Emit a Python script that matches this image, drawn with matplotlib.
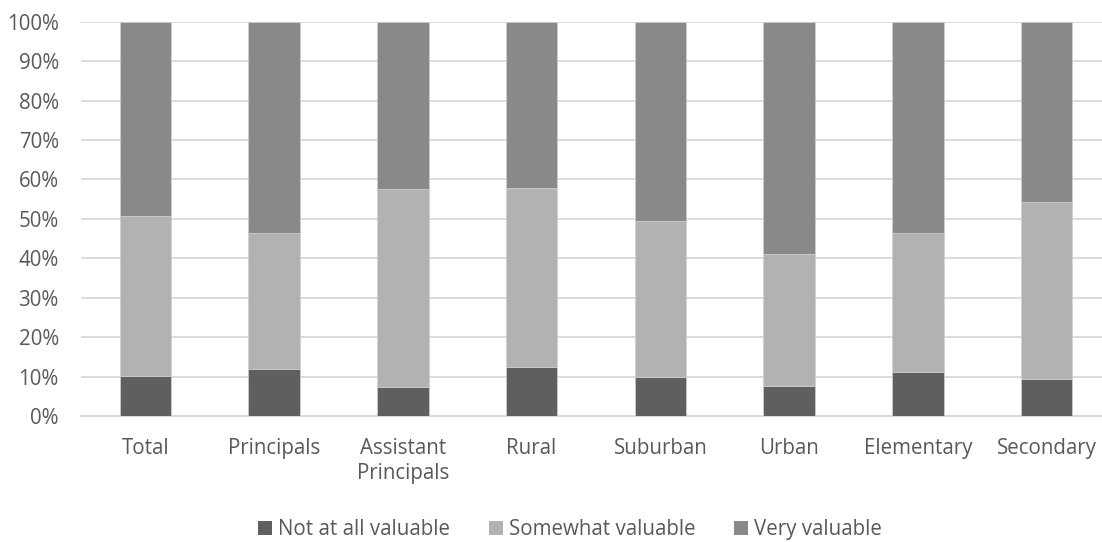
import numpy as np
import matplotlib
matplotlib.use("Agg")
import matplotlib.pyplot as plt
from matplotlib.patches import Patch

# data (percent)
categories = ["Total", "Principals", "Assistant\nPrincipals", "Rural",
              "Suburban", "Urban", "Elementary", "Secondary"]
not_at_all = [10.2, 11.9, 7.4, 12.4, 9.9, 7.6, 11.2, 9.5]
cum_somewhat = [50.6, 46.4, 57.6, 57.8, 49.5, 41.2, 46.5, 54.3]
somewhat = [c - n for c, n in zip(cum_somewhat, not_at_all)]
very = [100 - c for c in cum_somewhat]

series_names = ["Not at all valuable", "Somewhat valuable", "Very valuable"]
colors = ["#5f5f5f", "#b2b2b2", "#898989"]

plt.rcParams['font.family'] = ['Open Sans', 'DejaVu Sans']
txt = "#595959"

fig = plt.figure(figsize=(11.02, 5.42), dpi=100)
ax = fig.add_axes([81 / 1102, 126 / 542, 1030 / 1102, (416 - 21.7) / 542])

x = np.arange(len(categories))
w = 0.4
ax.bar(x, not_at_all, w, color=colors[0], edgecolor="#d0d0d0", linewidth=0.5, zorder=3)
ax.bar(x, somewhat, w, bottom=not_at_all, color=colors[1], edgecolor="#d0d0d0", linewidth=0.5, zorder=3)
ax.bar(x, very, w, bottom=cum_somewhat, color=colors[2], edgecolor="#d0d0d0", linewidth=0.5, zorder=3)

ax.set_xlim(-0.5, len(categories) - 0.5)
ax.set_ylim(0, 100)
ax.set_yticks(np.arange(0, 101, 10))
ax.set_yticklabels([f"{v}%" for v in range(0, 101, 10)])
ax.set_xticks(x)
ax.set_xticklabels(categories, linespacing=1.25)
ax.grid(axis="y", color="#d9d9d9", linewidth=1.3, zorder=0)
ax.set_axisbelow(True)
for s in ["top", "right", "left"]:
    ax.spines[s].set_visible(False)
ax.spines["bottom"].set_color("#d9d9d9")
ax.spines["bottom"].set_linewidth(1.3)
ax.tick_params(length=0, labelsize=14.8, labelcolor=txt)
ax.tick_params(axis="x", pad=16)
ax.tick_params(axis="y", pad=16)

handles = [Patch(facecolor=c, label=n) for c, n in zip(colors, series_names)]
fig.legend(handles=handles, loc="center", bbox_to_anchor=(570 / 1102, 12.3 / 542), ncol=3,
           frameon=False, fontsize=14.8, labelcolor=txt, handlelength=0.67,
           handleheight=0.67, handletextpad=0.29, columnspacing=1.9)

fig.savefig("out.png", dpi=100)
